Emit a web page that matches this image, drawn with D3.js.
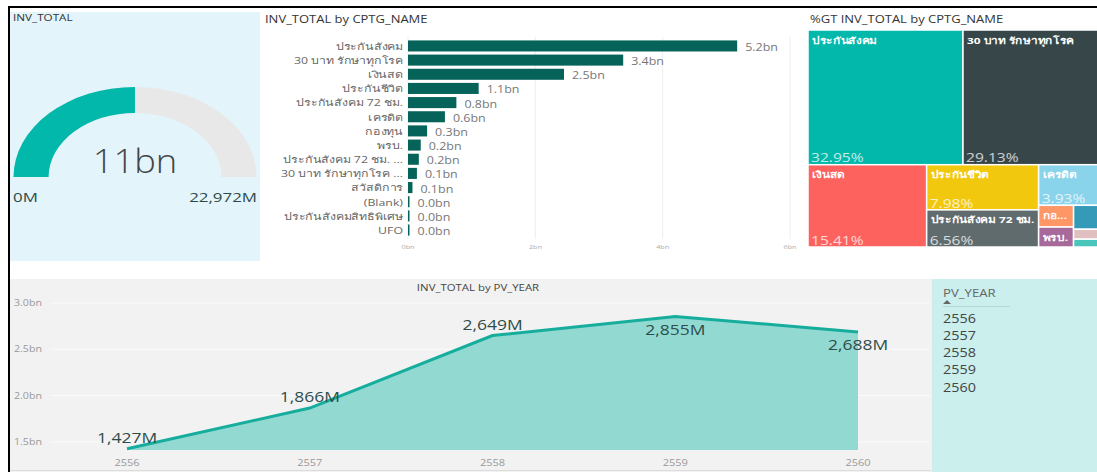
<!DOCTYPE html>
<html><head><meta charset="utf-8">
<script src="https://cdnjs.cloudflare.com/ajax/libs/d3/7.8.5/d3.min.js"></script>
<style>
body{margin:0;background:#fff}
svg{display:block}
text{font-family:"Open Sans","Noto Sans","DejaVu Sans",sans-serif}
</style>
</head><body>
<svg id="c" width="1097" height="472"></svg>
<script>
// ---------- DATA ----------
const gaugeValue = 11485;          // M
const gaugeMax = 22972;            // M
const gaugeMinLabel = "0M";
const gaugeMaxLabel = "22,972M";
const gaugeLabel = "11bn";

const categories = ["ประกันสังคม","30 บาท รักษาทุกโรค","เงินสด","ประกันชีวิต","ประกันสังคม 72 ชม.","เครดิต","กองทุน","พรบ.","ประกันสังคม 72 ชม. ...","30 บาท รักษาทุกโรค ...","สวัสดิการ","(Blank)","ประกันสังคมสิทธิพิเศษ","UFO"];
const categoryValues = [5.17,3.38,2.45,1.11,0.76,0.58,0.30,0.20,0.17,0.14,0.07,0.01,0.01,0.005]; // bn
const barTicks = [0,2,4,6];

const treeNames = ["ประกันสังคม","30 บาท รักษาทุกโรค","เงินสด","ประกันชีวิต","ประกันสังคม 72 ชม.","เครดิต","กองทุน","พรบ.","ประกันสังคม 72 ชม. ...","30 บาท รักษาทุกโรค ...","สวัสดิการ","(Blank)","ประกันสังคมสิทธิพิเศษ","UFO"];
const treePercents = [32.95,29.13,15.41,7.98,6.56,3.93,1.20,1.10,1.00,0.38,0.30,0.03,0.02,0.01];
const treeColors = ["#01B8AA","#374649","#FD625E","#F2C80F","#5F6B6D","#8AD4EB","#FE9666","#A66999","#3599B8","#DFBFBF","#4AC5BB","#5F6B6D","#FB8281","#F4D25A"];

const years = ["2556","2557","2558","2559","2560"];
const yearValues = [1427,1866,2649,2855,2688]; // M
const lineTicks = [1.5,2.0,2.5,3.0];           // bn

// ---------- HELPERS ----------
const SX = 1.3;
const svg = d3.select("#c");
function T(sel, x, y, s, o = {}) {
  return sel.append("text")
    .attr("transform", `translate(${x},${y}) scale(${o.sx || SX},1)`)
    .attr("font-size", o.size || 10)
    .attr("fill", o.fill || "#333")
    .attr("text-anchor", o.anchor || "start")
    .attr("dominant-baseline", o.base || "central")
    .attr("font-weight", o.weight || 400)
    .attr("opacity", o.opacity == null ? 1 : o.opacity)
    .text(s);
}

// ---------- GAUGE ----------
const g1 = svg.append("g");
g1.append("rect").attr("x", 10).attr("y", 12).attr("width", 250).attr("height", 249).attr("fill", "#e3f4fa");
T(g1, 13, 18, "INV_TOTAL", {size: 9, fill: "#333"});
const gcx = 135, gcy = 177, GX = 1.35;
const gScale = d3.scaleLinear([0, gaugeMax], [-Math.PI / 2, Math.PI / 2]);
const arc = d3.arc().innerRadius(64).outerRadius(90);
const gg = g1.append("g").attr("transform", `translate(${gcx},${gcy}) scale(${GX},1)`);
gg.append("path").attr("d", arc({startAngle: gScale(0), endAngle: gScale(gaugeMax)})).attr("fill", "#e8e8e8");
gg.append("path").attr("d", arc({startAngle: gScale(0), endAngle: gScale(gaugeValue)})).attr("fill", "#01B8AA");
T(g1, gcx, 160, gaugeLabel, {size: 33, fill: "#444", anchor: "middle", weight: 300, sx: 1.1});
T(g1, 13, 197, gaugeMinLabel, {size: 13, fill: "#2d4a48"});
T(g1, 257, 197, gaugeMaxLabel, {size: 13, fill: "#2d4a48", anchor: "end"});

// ---------- BAR CHART ----------
const g2 = svg.append("g");
T(g2, 265, 19, "INV_TOTAL by CPTG_NAME", {size: 10, fill: "#333"});
const bx = d3.scaleLinear([0, 6], [408, 790]);
const by = d3.scaleBand(categories, [39, 237]).paddingInner(0.22).paddingOuter(0.1);
g2.selectAll("line.grid").data(barTicks).join("line")
  .attr("x1", d => bx(d)).attr("x2", d => bx(d)).attr("y1", 37).attr("y2", 239)
  .attr("stroke", "#eeeeee").attr("stroke-width", 1);
barTicks.forEach(t => T(g2, bx(t), 247, t + "bn", {size: 6, fill: "#aaa", anchor: "middle", sx: 1.2}));
g2.selectAll("rect.bar").data(categories).join("rect")
  .attr("x", bx(0)).attr("y", d => by(d))
  .attr("width", (d, i) => Math.max(1.5, bx(categoryValues[i]) - bx(0)))
  .attr("height", by.bandwidth()).attr("fill", "#06635A");
categories.forEach((c, i) => {
  const cy = by(c) + by.bandwidth() / 2;
  T(g2, 403, cy, c, {size: 9.5, fill: "#666", anchor: "end", sx: 1.3});
  T(g2, Math.max(bx(categoryValues[i]), bx(0) + 1.5) + 8, cy + 1, d3.format(".1f")(categoryValues[i]) + "bn", {size: 10, fill: "#777", sx: 1.25});
});

// ---------- TREEMAP ----------
const g3 = svg.append("g");
T(g3, 810, 19, "%GT INV_TOTAL by CPTG_NAME", {size: 10, fill: "#333"});
const TX = 1.35, tmX = 808, tmY = 30, tmW = 292, tmH = 217;
const root = d3.hierarchy({children: treeNames.map((n, i) => ({name: n, value: treePercents[i], color: treeColors[i]}))})
  .sum(d => d.value || 0);
d3.treemap().size([tmW / TX, tmH]).tile(d3.treemapSquarify)(root);
root.leaves().forEach((d, i) => {
  const x = tmX + d.x0 * TX, y = tmY + d.y0, w = (d.x1 - d.x0) * TX, h = d.y1 - d.y0;
  g3.append("rect").attr("x", x).attr("y", y).attr("width", w).attr("height", h)
    .attr("fill", d.data.color).attr("stroke", "#fff").attr("stroke-width", 1.5);
  const nsx = 1.25;
  if (w >= 30 && h >= 16) {
    const t = T(g3, x + 4, y + 10, d.data.name, {size: 9.5, fill: "#fff", weight: 700, sx: nsx});
    const avail = w - 7;
    let s = d.data.name;
    if (t.node().getComputedTextLength() * nsx > avail) {
      while (s.length > 1) {
        s = s.slice(0, -1);
        t.text(s.trimEnd() + " ...");
        if (t.node().getComputedTextLength() * nsx <= avail) break;
      }
      if (s.length <= 3) t.text(s.trimEnd() + "...");
    }
  }
  if (w >= 30 && h >= 36) {
    T(g3, x + 3, y + h - 7, d3.format(".2f")(d.data.value) + "%", {size: 12, fill: "#fff", opacity: 0.75, sx: 1.3});
  }
});

// ---------- LINE / AREA ----------
const g4 = svg.append("g");
g4.append("rect").attr("x", 10).attr("y", 279).attr("width", 921).attr("height", 193).attr("fill", "#f2f2f2");
g4.append("line").attr("x1", 10).attr("x2", 931).attr("y1", 470.5).attr("y2", 470.5).attr("stroke", "#dcdcdc");
T(g4, 478, 287, "INV_TOTAL by PV_YEAR", {size: 9.5, fill: "#444", anchor: "middle", sx: 1.2});
const lx = d3.scalePoint(years, [127, 858]);
const ly = d3.scaleLinear([1.413, 3.0], [450, 303]);
g4.selectAll("line.hg").data(lineTicks).join("line")
  .attr("x1", 50).attr("x2", 930).attr("y1", d => ly(d)).attr("y2", d => ly(d))
  .attr("stroke", "#fbfbfb").attr("stroke-width", 1);
lineTicks.forEach(t => T(g4, 14, ly(t), d3.format(".1f")(t) + "bn", {size: 8.5, fill: "#999", sx: 1.25}));
years.forEach(yv => T(g4, lx(yv), 463, yv, {size: 8.5, fill: "#999", anchor: "middle", sx: 1.3}));
const pts = years.map((yv, i) => [lx(yv), ly(yearValues[i] / 1000)]);
g4.append("path").attr("d", d3.area().x(d => d[0]).y0(ly(1.413)).y1(d => d[1])(pts)).attr("fill", "#92d9d2");
g4.append("path").attr("d", d3.line()(pts)).attr("fill", "none").attr("stroke", "#16ad9d").attr("stroke-width", 3);
const peak = d3.maxIndex(yearValues);
years.forEach((yv, i) => {
  const below = i >= peak;
  T(g4, lx(yv), pts[i][1] + (below ? 13 : -11), d3.format(",")(yearValues[i]) + "M", {size: 14, fill: "#2e4d4a", anchor: "middle", sx: 1.25});
});

// ---------- SLICER ----------
const g5 = svg.append("g");
g5.append("rect").attr("x", 932).attr("y", 279).attr("width", 165).attr("height", 193).attr("fill", "#caefec");
g5.append("line").attr("x1", 932).attr("x2", 932).attr("y1", 279).attr("y2", 472).attr("stroke", "#d8e8e6");
T(g5, 943, 293, "PV_YEAR", {size: 11, fill: "#666", sx: 1.2});
g5.append("path").attr("d", "M943,304 L947,300 L951,304 Z").attr("fill", "#666");
g5.append("line").attr("x1", 943).attr("x2", 1010).attr("y1", 306.5).attr("y2", 306.5).attr("stroke", "#b8d6d3");
const sy = d3.scalePoint(years, [318, 387]);
years.forEach(yv => T(g5, 943, sy(yv), yv, {size: 12, fill: "#444", sx: 1.2}));

// ---------- FRAME ----------
svg.append("path").attr("d", "M9,472 V7 H1097").attr("fill", "none").attr("stroke", "#000").attr("stroke-width", 2);
</script>
</body></html>
